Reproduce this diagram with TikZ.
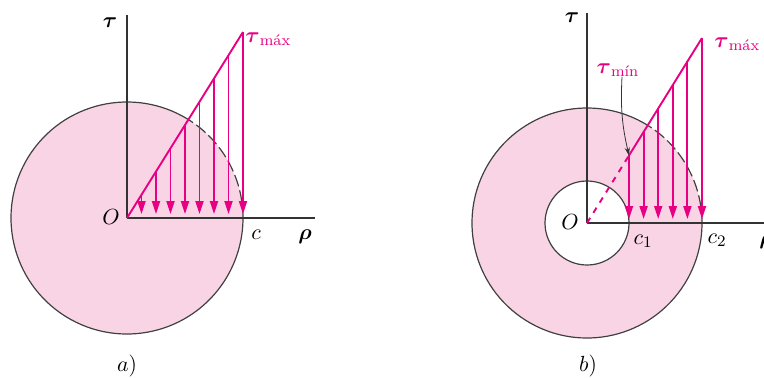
\documentclass[tikz,border=0pt]{standalone}
\usepackage{amsmath,amssymb}
\usepackage{xcolor}
\usepackage{tikz}
\usetikzlibrary{arrows.meta, calc}

\definecolor{diskpink}{RGB}{249,212,229}
\definecolor{shearpink}{RGB}{232,0,130}

\begin{document}
\begin{tikzpicture}[
    x=0.5pt, y=0.5pt,
    axis/.style={draw=black!80, line width=0.75pt},
    rim/.style={draw=black!75, line width=0.6pt},
    hidden rim/.style={rim, dash pattern=on 6pt off 2pt},
    shear/.style={draw=shearpink, line width=0.95pt},
    shear arrow/.style={shear, -{Triangle[length=6.5pt, width=4pt]}, shorten >=2pt},
    pointer/.style={draw=black!80, line width=0.4pt, -{Stealth[length=4pt, width=2.6pt]}},
    lbl/.style={font=\fontsize{11}{13}\selectfont, inner sep=0pt},
    every node/.style={lbl}
]
    \useasboundingbox (0,0) rectangle (764,377);

    % a) solid shaft
    \coordinate (Oa) at (127,159);
    \coordinate (Ta) at (243,345);
    \fill[diskpink] (Oa) circle (116);
    \draw[rim] (Oa) ++(58:116) arc (58:360:116);
    \draw[hidden rim] (Oa) ++(0:116) arc (0:58:116);
    \draw[axis] (Oa) -- (127,362) coordinate (taua);
    \draw[axis] (Oa) -- (315,159) coordinate (rhoa);
    \draw[shear] (Oa) -- (Ta);
    \foreach \i in {1,...,8} {
        \coordinate (ha\i) at ($(Oa)!\i/8!(Ta)$);
        \draw[shear arrow] (ha\i) -- (ha\i |- Oa);
    }
    \node (taulabela) at (110,354) {$\boldsymbol{\tau}$};
    \node (rholabela) at (305,140) {$\boldsymbol{\rho}$};
    \node (ca) at (256,142) {$c$};
    \node (Olabela) at (111,160) {$O$};
    \node[anchor=west, text=shearpink] (tmaxa) at ($(Ta)+(2,-7)$) {$\boldsymbol{\tau}_{\text{m\'ax}}$};
    \node (capa) at (127,11) {$a$)};

    % b) hollow shaft
    \coordinate (Ob) at (587,154);
    \coordinate (Tb) at (702,339);
    \fill[diskpink, even odd rule] (Ob) circle (115) (Ob) circle (42);
    \draw[rim] (Ob) ++(58:115) arc (58:360:115);
    \draw[hidden rim] (Ob) ++(0:115) arc (0:58:115);
    \draw[rim] (Ob) circle (42);
    \draw[axis] (Ob) -- (587,364) coordinate (taub);
    \draw[axis] (Ob) -- (772,154) coordinate (rhob);
    \coordinate (Mb) at ($(Ob)!42/115!(Tb)$);
    \draw[shear, dashed] (Ob) -- (Mb);
    \draw[shear] (Mb) -- (Tb);
    \foreach \j in {0,...,5} {
        \pgfmathsetmacro\f{(42+\j*14.6)/115}
        \coordinate (hb\j) at ($(Ob)!\f!(Tb)$);
        \draw[shear arrow] (hb\j) -- (hb\j |- Ob);
    }
    \node (taulabelb) at (572,359) {$\boldsymbol{\tau}$};
    \node (rholabelb) at (766,135) {$\boldsymbol{\rho}$};
    \node (c1b) at (643,136) {$c_1$};
    \node (c2b) at (717,137) {$c_2$};
    \node (Olabelb) at (570,155) {$O$};
    \node[anchor=west, text=shearpink] (tmaxb) at ($(Tb)+(12,-6)$) {$\boldsymbol{\tau}_{\text{m\'ax}}$};
    \node[text=shearpink] (tminb) at (618,307) {$\boldsymbol{\tau}_{\text{m\'{\i}n}}$};
    \draw[pointer] ([xshift=2]tminb.south) to[bend right=8] (Mb);
    \node (capb) at (588,11) {$b$)};
\end{tikzpicture}
\end{document}
